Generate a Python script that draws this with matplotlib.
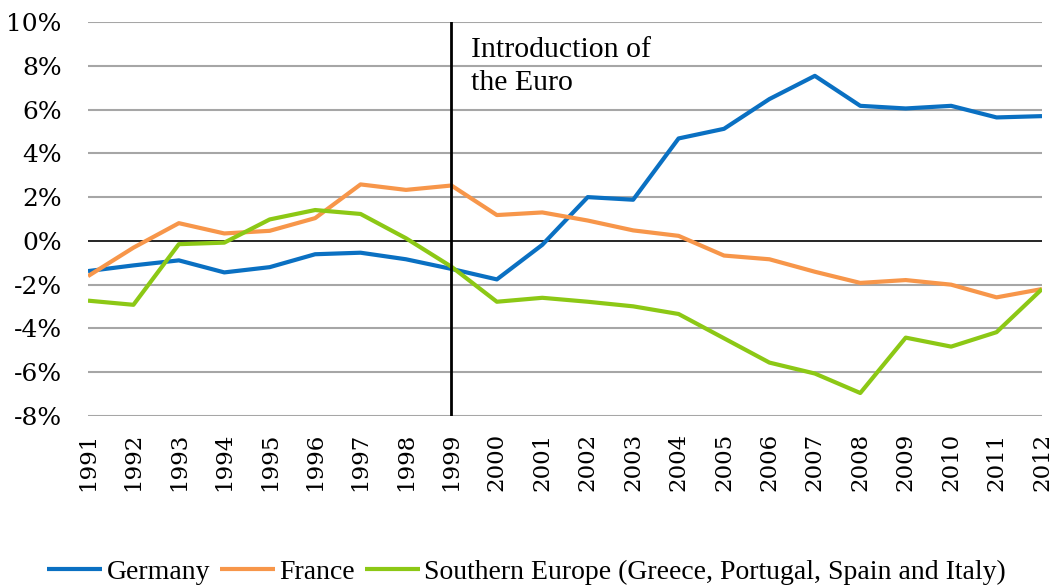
import matplotlib
matplotlib.use("Agg")
import matplotlib.pyplot as plt
from matplotlib.ticker import FuncFormatter

years = list(range(1991, 2013))
germany = [-1.38, -1.12, -0.89, -1.44, -1.20, -0.61, -0.54, -0.84, -1.28, -1.76,
           -0.18, 2.00, 1.88, 4.68, 5.12, 6.48, 7.54, 6.17, 6.05, 6.17, 5.64, 5.70]
france = [-1.61, -0.31, 0.81, 0.34, 0.46, 1.04, 2.58, 2.33, 2.53, 1.18,
          1.30, 0.93, 0.48, 0.23, -0.67, -0.84, -1.41, -1.92, -1.79, -2.00, -2.58, -2.20]
southern = [-2.73, -2.92, -0.15, -0.08, 0.98, 1.41, 1.23, 0.12, -1.18, -2.78,
            -2.60, -2.78, -2.99, -3.34, -4.45, -5.56, -6.06, -6.95, -4.42, -4.83, -4.17, -2.20]
series_names = ["Germany", "France", "Southern Europe (Greece, Portugal, Spain and Italy)"]
colors = ["#0A70C2", "#F7964A", "#8CC815"]
euro_year = 1999
annotation = "Introduction of\nthe Euro"
yticks = list(range(-8, 11, 2))

fig = plt.figure(figsize=(10.53, 5.85), dpi=100)
ax = fig.add_axes([88/1053, 1-416/585, (1042-88)/1053, (416-22)/585])

for vals, name, c in zip([germany, france, southern], series_names, colors):
    ax.plot(years, vals, color=c, lw=3.0, label=name, solid_capstyle="butt", zorder=3)

ax.set_xlim(years[0], years[-1])
ax.set_ylim(-8, 10)
ax.set_yticks(yticks)
ax.yaxis.set_major_formatter(FuncFormatter(lambda v, p: f"{int(v)}%"))
ax.set_xticks(years)
ax.set_xticklabels([str(y) for y in years], rotation=90, family="DejaVu Serif", fontsize=16.5)
for lab in ax.get_yticklabels():
    lab.set_family("DejaVu Serif")
    lab.set_fontsize(18)
ax.tick_params(axis="both", length=0)
ax.tick_params(axis="y", pad=19)
ax.tick_params(axis="x", pad=12)
for s in ax.spines.values():
    s.set_visible(False)
for yv in yticks:
    if yv == 0:
        ax.axhline(yv, color="black", lw=1.2, zorder=2)
    else:
        ax.axhline(yv, color="#A6A6A6", lw=1.5, zorder=1)
ax.axvline(euro_year, color="black", lw=2, zorder=4)
ax.text(euro_year + 0.42, 9.3, annotation, family="Liberation Serif", fontsize=21.5,
        va="top", ha="left", linespacing=1.32)

leg = fig.legend(loc="center", bbox_to_anchor=(0.5, 1-572/585), ncol=3, frameon=False,
                 prop={"family": "Liberation Serif", "size": 20}, handlelength=2.0,
                 handletextpad=0.15, columnspacing=0.35, borderaxespad=0)

fig.savefig("out.png", dpi=100)
